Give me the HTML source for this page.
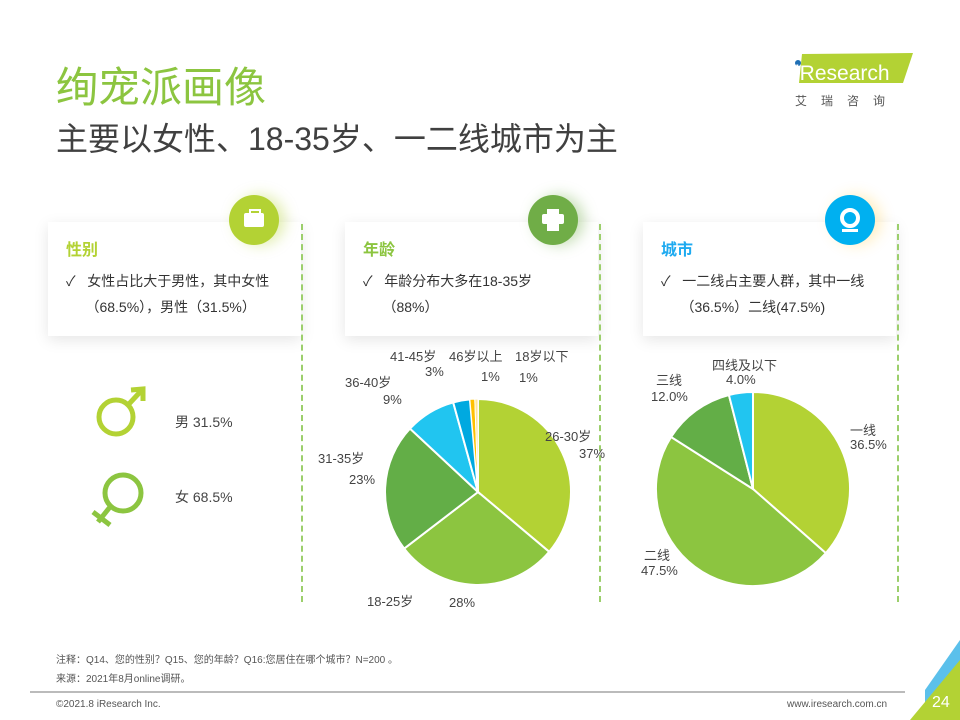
<!DOCTYPE html>
<html><head><meta charset="utf-8"><style>
body{margin:0;width:960px;height:720px;background:#fff;overflow:hidden;font-family:"Liberation Sans","Noto Sans CJK SC",sans-serif;position:relative}
.a{position:absolute;white-space:nowrap}
.card{position:absolute;background:#fff;box-shadow:0 4px 14px rgba(0,0,0,0.10);top:222px;height:114px;width:253px}
.ct{position:absolute;left:18px;top:14px;font-size:16px;font-weight:bold}
.cb{position:absolute;left:18px;top:46px;font-size:14px;color:#333;line-height:26px}
.dash{position:absolute;top:224px;height:378px;border-left:2px dashed #9ccf6c}
.ic{position:absolute;width:50px;height:50px;border-radius:50%}
.lb{font-size:13px;color:#444;position:absolute;white-space:nowrap}
</style></head><body>
<div class="a" style="left:56px;top:54px;font-size:42px;color:#8cc540">绚宠派画像</div>
<div class="a" style="left:56px;top:114px;font-size:32px;color:#404040">主要以女性、18-35岁、一二线城市为主</div>
<svg class="a" style="left:790px;top:50px" width="125" height="60">
<polygon points="12,4 123,3 113,33 9,33" fill="#b3d234"/>
<circle cx="8" cy="13" r="3" fill="#1f6fb5"/>
<text x="5" y="30" font-size="21" fill="#fff" font-family="Liberation Sans">iResearch</text>
<text x="5" y="55" font-size="12" fill="#555" letter-spacing="14" font-family="Noto Sans CJK SC">艾瑞咨询</text>
</svg>

<div class="card" style="left:48px"><div class="ct" style="color:#b3d234">性别</div><div class="cb">✓&nbsp;&nbsp; 女性占比大于男性，其中女性<br>&nbsp;&nbsp;&nbsp;&nbsp;&nbsp;（68.5%），男性（31.5%）</div></div>
<div class="card" style="left:345px"><div class="ct" style="color:#8cc540">年龄</div><div class="cb">✓&nbsp;&nbsp; 年龄分布大多在18-35岁<br>&nbsp;&nbsp;&nbsp;&nbsp;&nbsp;（88%）</div></div>
<div class="card" style="left:643px"><div class="ct" style="color:#1eaaf0">城市</div><div class="cb">✓&nbsp;&nbsp; 一二线占主要人群，其中一线<br>&nbsp;&nbsp;&nbsp;&nbsp;&nbsp;（36.5%）二线(47.5%)</div></div>
<div class="dash" style="left:301px"></div><div class="dash" style="left:599px"></div><div class="dash" style="left:897px"></div>

<div class="ic" style="left:229px;top:195px;background:#b3d234;box-shadow:6px 0 14px rgba(179,210,52,0.4)"><div style="position:absolute;left:15px;top:18px;width:20px;height:14px;background:#fff;border-radius:2px"></div><div style="position:absolute;left:20px;top:14px;width:8px;height:4px;border:2px solid #fff;border-bottom:none"></div></div>
<div class="ic" style="left:528px;top:195px;background:#70ad47;box-shadow:6px 0 14px rgba(112,173,71,0.4)"><div style="position:absolute;left:14px;top:19px;width:22px;height:10px;background:#fff;border-radius:2px"></div><div style="position:absolute;left:19px;top:14px;width:12px;height:22px;background:#fff"></div></div>
<div class="ic" style="left:825px;top:195px;background:#00b0f0;box-shadow:6px 0 14px rgba(255,200,50,0.3)"><div style="position:absolute;left:15px;top:13px;width:12px;height:12px;border:4px solid #fff;border-radius:50%"></div><div style="position:absolute;left:17px;top:34px;width:16px;height:3px;background:#fff"></div></div>

<svg class="a" style="left:0;top:0" width="960" height="720">
<g stroke="#b3d234" stroke-width="5" fill="none"><circle cx="116" cy="417" r="17"/><line x1="128" y1="405" x2="141" y2="391"/><polyline points="131,390 143,389 143,401"/></g>
<g stroke="#8cc540" stroke-width="5" fill="none"><circle cx="123" cy="493" r="18"/><line x1="110" y1="507" x2="98" y2="522"/><line x1="93" y1="512" x2="110" y2="525"/></g>
<g stroke="#fff" stroke-width="2">
<path d="M478,492 L478,399 A93,93 0 0 1 549.2,551.8Z" fill="#b3d234"/>
<path d="M478,492 L549.2,551.8 A93,93 0 0 1 404.2,548.6Z" fill="#8cc540"/>
<path d="M478,492 L404.2,548.6 A93,93 0 0 1 410,428.6Z" fill="#63ae47"/>
<path d="M478,492 L410,428.6 A93,93 0 0 1 453.2,402.4Z" fill="#21c5f0"/>
<path d="M478,492 L453.2,402.4 A93,93 0 0 1 469.9,399.4Z" fill="#00a9e0"/>
<path d="M478,492 L469.9,399.4 A93,93 0 0 1 474.8,399.1Z" fill="#ffc000" stroke-width="1"/>
<path d="M478,492 L474.8,399.1 A93,93 0 0 1 478,399Z" fill="#ffe699" stroke-width="1"/>
<path d="M753,489 L753,392 A97,97 0 0 1 825.8,553.1Z" fill="#b3d234"/>
<path d="M753,489 L825.8,553.1 A97,97 0 0 1 671.1,437Z" fill="#8cc540"/>
<path d="M753,489 L671.1,437 A97,97 0 0 1 728.9,395Z" fill="#63ae47"/>
<path d="M753,489 L728.9,395 A97,97 0 0 1 753,392Z" fill="#21c5f0"/>
</g>
<line x1="30" y1="692" x2="905" y2="692" stroke="#bbb" stroke-width="2"/>
<polygon points="960,640 960,720 925,720 925,690" fill="#5bc0eb"/>
<polygon points="960,660 960,720 910,720" fill="#b3d234"/>
</svg>

<div class="lb" style="left:175px;top:412px;font-size:14px">男 31.5%</div>
<div class="lb" style="left:175px;top:487px;font-size:14px">女 68.5%</div>

<div class="lb" style="left:390px;top:346px">41-45岁</div><div class="lb" style="left:425px;top:364px">3%</div>
<div class="lb" style="left:449px;top:346px">46岁以上</div><div class="lb" style="left:481px;top:369px">1%</div>
<div class="lb" style="left:515px;top:346px">18岁以下</div><div class="lb" style="left:519px;top:370px">1%</div>
<div class="lb" style="left:345px;top:372px">36-40岁</div><div class="lb" style="left:383px;top:392px">9%</div>
<div class="lb" style="left:318px;top:448px">31-35岁</div><div class="lb" style="left:349px;top:472px">23%</div>
<div class="lb" style="left:545px;top:426px">26-30岁</div><div class="lb" style="left:579px;top:446px">37%</div>
<div class="lb" style="left:367px;top:591px">18-25岁</div><div class="lb" style="left:449px;top:595px">28%</div>

<div class="lb" style="left:712px;top:355px">四线及以下</div><div class="lb" style="left:726px;top:372px">4.0%</div>
<div class="lb" style="left:656px;top:370px">三线</div><div class="lb" style="left:651px;top:389px">12.0%</div>
<div class="lb" style="left:850px;top:420px">一线</div><div class="lb" style="left:850px;top:437px">36.5%</div>
<div class="lb" style="left:644px;top:545px">二线</div><div class="lb" style="left:641px;top:563px">47.5%</div>

<div class="a" style="left:56px;top:651px;font-size:10px;color:#555">注释：Q14、您的性别？Q15、您的年龄？Q16:您居住在哪个城市？N=200 。</div>
<div class="a" style="left:56px;top:670px;font-size:10px;color:#555">来源：2021年8月online调研。</div>
<div class="a" style="left:56px;top:699px;font-size:10px;color:#555">©2021.8 iResearch Inc.</div>
<div class="a" style="left:787px;top:699px;font-size:10px;color:#555">www.iresearch.com.cn</div>
<div class="a" style="left:932px;top:694px;font-size:16px;color:#fff">24</div>
</body></html>
